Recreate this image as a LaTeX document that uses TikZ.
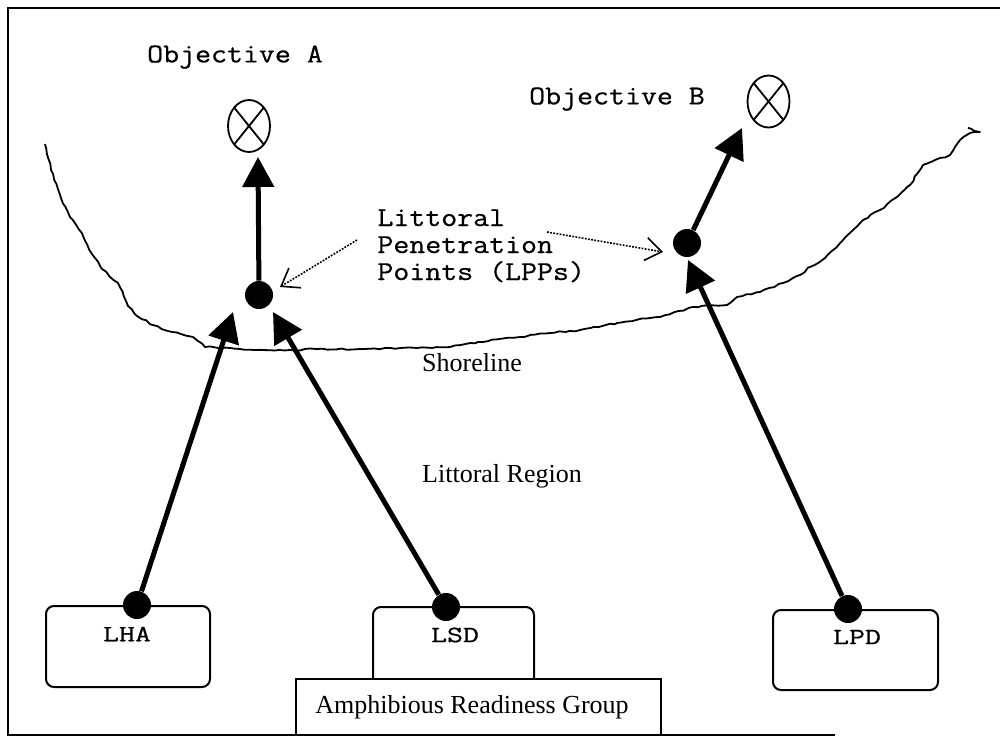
\documentclass[tikz,border=0pt]{standalone}
\usepackage{fontspec}
\usepackage{graphicx}
\setmainfont{Liberation Serif}
\newfontfamily\courfont{Latin Modern Mono}[FakeBold=0.6]
\usetikzlibrary{arrows.meta,calc,shapes.geometric,decorations.pathmorphing}
\newcommand\courtext[1]{\scalebox{1}[0.88]{#1}}
\newcommand\shiptext[1]{\scalebox{1}[0.75]{#1}}
\begin{document}
\begin{tikzpicture}[x=0.5pt,y=-0.5pt,
  conn/.style={line width=2.5pt,-{Triangle[length=15pt,width=15.5pt]}},
  pointer/.style={line width=0.8pt,dash pattern=on 0.9pt off 0.7pt,-{Straight Barb[length=8pt,width=11.5pt]}},
  dot/.style={circle,fill=black,inner sep=0pt,minimum size=14pt},
  obj/.style={ellipse,draw,line width=0.9pt,inner sep=0pt,minimum width=21pt,minimum height=26pt},
  ship/.style={draw,line width=1pt,rounded corners=4pt,fill=white,inner sep=0pt},
  mono/.style={font=\fontsize{15.5}{17}\selectfont\courfont,inner sep=0pt},
  serif/.style={font=\fontsize{13}{15}\selectfont,inner sep=0pt},
  frame/.style={line width=1.2pt}
]
\useasboundingbox (0,0) rectangle (1000,739);
\fill[white] (0,0) rectangle (1000,739);
% frame
\draw[frame] (1000,8) -- (8,8) -- (8,735) -- (835,735);
% shoreline
\pgfmathsetseed{7}
\draw[line width=0.9pt,line join=round,decorate,decoration={random steps,segment length=2.5pt,amplitude=0.4pt}]
  (45,144) -- (51,170) -- (61,198) -- (70,217) -- (83,236) -- (92,254) -- (102,269) -- (118,283)
  -- (128,306) -- (137,316) -- (153,325) -- (172,332) -- (193,337) -- (198,341) -- (205,347)
  -- (230,348) -- (255,350) -- (290,350) -- (317,349) -- (360,349) -- (417,348) -- (450,347)
  -- (478,342) -- (520,337) -- (550,333) -- (580,330) -- (617,323) -- (650,318) -- (660,317)
  -- (693,307) -- (727,305) -- (737,297) -- (760,292) -- (783,283) -- (800,275) -- (810,267)
  -- (825,258) -- (843,240) -- (863,220) -- (880,210) -- (897,197) -- (910,185) -- (923,165)
  -- (935,160) -- (950,155) -- (960,140) -- (970,133) -- (980,132) -- (968,128);
% ships
\node[ship,minimum width=82pt,minimum height=40.5pt] (lha) at (128,646.5) {};
\node[ship,minimum width=80.5pt,minimum height=49pt] (lsd) at (453.5,656) {};
\node[ship,minimum width=82.5pt,minimum height=40pt] (lpd) at (855.5,650) {};
\node[draw,line width=1pt,fill=white,inner sep=0pt,minimum width=182.5pt,minimum height=28pt] (arg) at (478.5,707) {};
\node[serif] (argtxt) at (472,707) {Amphibious Readiness Group};
\node[mono] (lhatxt) at (127,634) {\shiptext{LHA}};
\node[mono] (lsdtxt) at (455,635) {\shiptext{LSD}};
\node[mono] (lpdtxt) at (857,637) {\shiptext{LPD}};
% objectives
\node[obj] (objA) at (249,126) {};
\node[obj] (objB) at (768.5,101.5) {};
\draw[line width=0.9pt] ($(objA)+(-14.8,-18.4)$) -- ($(objA)+(14.8,18.4)$);
\draw[line width=0.9pt] ($(objA)+(-14.8,18.4)$) -- ($(objA)+(14.8,-18.4)$);
\draw[line width=0.9pt] ($(objB)+(-14.5,-18)$) -- ($(objB)+(14.5,18)$);
\draw[line width=0.9pt] ($(objB)+(-14.5,18)$) -- ($(objB)+(14.5,-18)$);
\node[mono] (objAtxt) at (235,57) {\courtext{Objective A}};
\node[mono] (objBtxt) at (617,99) {\courtext{Objective B}};
% penetration points
\node[dot] (dotA) at (259,295) {};
\node[dot] (dotB) at (687,243) {};
\node[dot] (dlha) at (137,605) {};
\node[dot] (dlsd) at (446,607) {};
\node[dot] (dlpd) at (848,609) {};
% arrow tips
\coordinate (tipA) at (258,157);
\coordinate (tipB) at (742,128);
\coordinate (tipLHA) at (233,312);
\coordinate (tipLSD) at (273,312);
\coordinate (tipLPD) at (688,260);
\draw[conn] (dotA) -- (tipA);
\draw[conn] (dotB) -- (tipB);
\draw[conn] (dlha) -- (tipLHA);
\draw[conn] (dlsd) -- (tipLSD);
\draw[conn] (dlpd) -- (tipLPD);
% labels
\node[mono,anchor=base west] (lpp1) at (377,226) {\courtext{Littoral}};
\node[mono,anchor=base west] (lpp2) at (377,253) {\courtext{Penetration}};
\node[mono,anchor=base west] (lpp3) at (377,280) {\courtext{Points (LPPs)}};
\coordinate (tailA) at (357,240);
\coordinate (ptA) at (280,287);
\coordinate (tailB) at (547,232);
\coordinate (ptB) at (663,252);
\draw[pointer] (tailA) -- (ptA);
\draw[pointer] (tailB) -- (ptB);
\node[serif,anchor=base] (shore) at (472,371) {Shoreline};
\node[serif,anchor=base] (region) at (502,482) {Littoral Region};
\end{tikzpicture}
\end{document}
